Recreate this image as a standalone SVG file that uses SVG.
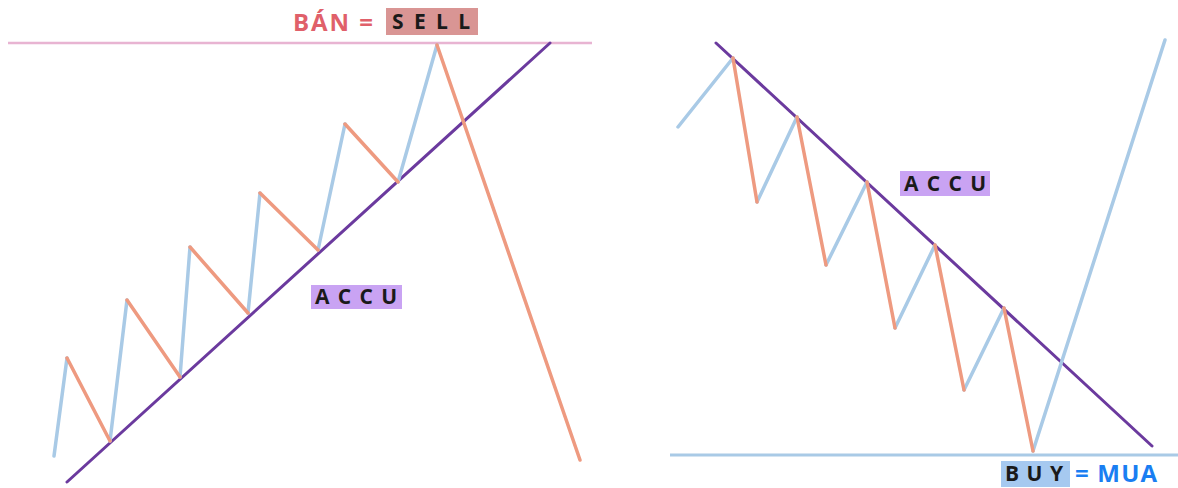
<svg xmlns="http://www.w3.org/2000/svg" width="1178" height="488" viewBox="0 0 1178 488">
<style>
.up{stroke:#a9cae6;stroke-width:3.5;fill:none;stroke-linecap:round}
.dn{stroke:#ee9a80;stroke-width:3.5;fill:none;stroke-linecap:round}
.trend{stroke:#6b3a9e;stroke-width:3;fill:none;stroke-linecap:round}
.lbl{font-family:"Open Sans","Liberation Sans",sans-serif;font-weight:bold;font-size:21px;fill:#1a1a1a}
.big{font-family:"Open Sans","Liberation Sans",sans-serif;font-weight:bold;font-size:24px}
</style>
<rect width="1178" height="488" fill="#ffffff"/>
<g id="connectors">
<line x1="8" y1="43" x2="592" y2="43" stroke="#e8b4d2" stroke-width="2.5"/>
<line class="trend" x1="67" y1="482" x2="550" y2="43"/>
<line x1="670" y1="455" x2="1178" y2="455" stroke="#a9cae6" stroke-width="3"/>
<line class="trend" x1="716" y1="43" x2="1152" y2="446"/>
<path class="up" d="M54 456L67 358M110 441L127 300M180 377L190 247M248 313L260 193M318 250L345 124M398 182L437 45"/>
<path class="dn" d="M67 358L110 441M127 300L180 377M190 247L248 313M260 193L318 250M345 124L398 182M437 45L580 460"/>
<path class="up" d="M678 127L733 58M757 202L797 117M826 265L867 182M895 328L935 245M964 390L1004 308M1033 451L1165 40"/>
<path class="dn" d="M733 58L757 202M797 117L826 265M867 182L895 328M935 245L964 390M1004 308L1033 451"/>
</g>
<g id="sell-label">
<text class="big" x="293" y="31" fill="#e0606a" textLength="80" lengthAdjust="spacing">BÁN =</text>
<rect x="386" y="8" width="92" height="27" fill="#d99594"/>
<text class="lbl" x="392" y="29" textLength="78" lengthAdjust="spacing">SELL</text>
</g>
<g id="accu-left">
<rect x="311" y="285" width="91" height="24" fill="#c9a3f3"/>
<text class="lbl" x="315" y="304" textLength="82" lengthAdjust="spacing">ACCU</text>
</g>
<g id="accu-right">
<rect x="900" y="171" width="90" height="25" fill="#c9a3f3"/>
<text class="lbl" x="904" y="191" textLength="82" lengthAdjust="spacing">ACCU</text>
</g>
<g id="buy-label">
<rect x="1001" y="461" width="69" height="26" fill="#a6c9f0"/>
<text class="lbl" x="1005" y="481" font-size="20" textLength="58" lengthAdjust="spacing">BUY</text>
<text class="big" x="1075" y="482" font-size="22" fill="#1a7ef2" textLength="82" lengthAdjust="spacing">= MUA</text>
</g>
</svg>
